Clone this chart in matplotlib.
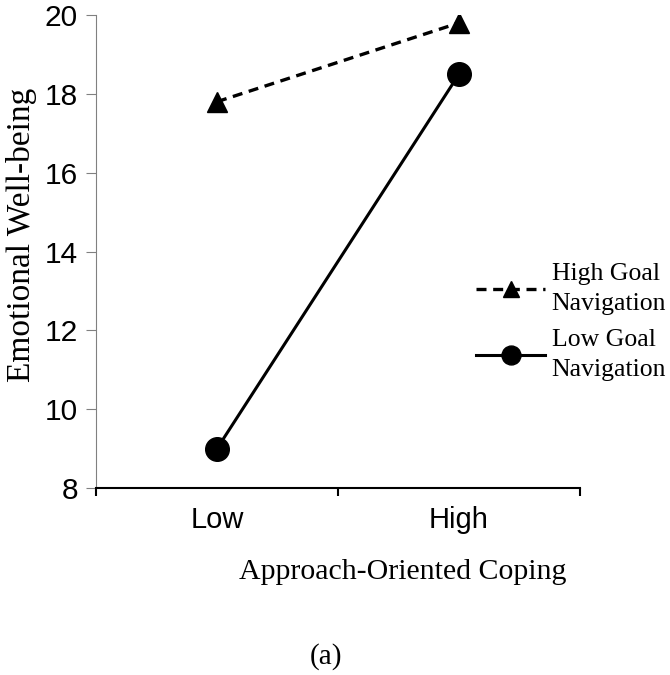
import matplotlib.pyplot as plt

## data
coping = ['Low', 'High']
high_goal_nav = [17.8, 19.8]
low_goal_nav = [9.0, 18.5]
y_ticks = [8, 10, 12, 14, 16, 18, 20]

fig = plt.figure(figsize=(6.7, 6.75), dpi=100)
ax = fig.add_axes([0.1433, 0.277, 0.7224, 0.7008])

x = [0.5, 1.5]
ax.plot(x, high_goal_nav, color='black', linewidth=2.4, linestyle=(0, (3, 2)),
        marker='^', markersize=15, label='High Goal\nNavigation')
ax.plot(x, low_goal_nav, color='black', linewidth=2.2, linestyle='-',
        marker='o', markersize=17, label='Low Goal\nNavigation')

ax.set_xlim(0, 2)
ax.set_ylim(8, 20)
ax.set_yticks(y_ticks)
ax.set_xticks([0, 1, 2])
ax.set_xticklabels([])
ax.set_xticks(x, minor=True)
ax.set_xticklabels(coping, minor=True, fontsize=21, family='Liberation Sans')
ax.tick_params(axis='x', which='minor', length=0, pad=13)
ax.tick_params(axis='x', which='major', length=6, width=1.5, direction='out', color='black')
ax.tick_params(axis='y', length=7, width=0.8, color='gray', labelsize=21.5, pad=6)
for lbl in ax.get_yticklabels():
    lbl.set_family('Liberation Sans')

ax.spines['top'].set_visible(False)
ax.spines['right'].set_visible(False)
ax.spines['left'].set_color('gray')
ax.spines['left'].set_linewidth(0.8)
ax.spines['bottom'].set_color('black')
ax.spines['bottom'].set_linewidth(1.5)

ax.set_ylabel('Emotional Well-being', fontsize=24, family='Liberation Serif')
ax.yaxis.set_label_coords(-0.121, 0.535)
fig.text(0.601, 0.152, 'Approach-Oriented Coping', fontsize=21.5,
         family='Liberation Serif', ha='center', va='center')
fig.text(0.487, 0.027, '(a)', fontsize=21, family='Liberation Serif',
         ha='center', va='center')

leg = ax.legend(loc='upper left', bbox_to_anchor=(0.695, 0.625), bbox_transform=fig.transFigure,
                frameon=False, prop={'family': 'Liberation Serif', 'size': 18.5},
                handlelength=2.7, handletextpad=0.25, labelspacing=0.55, borderaxespad=0,
                markerscale=0.8)
for t in leg.get_texts():
    t.set_linespacing(1.45)

fig.savefig('out.png', dpi=100)
